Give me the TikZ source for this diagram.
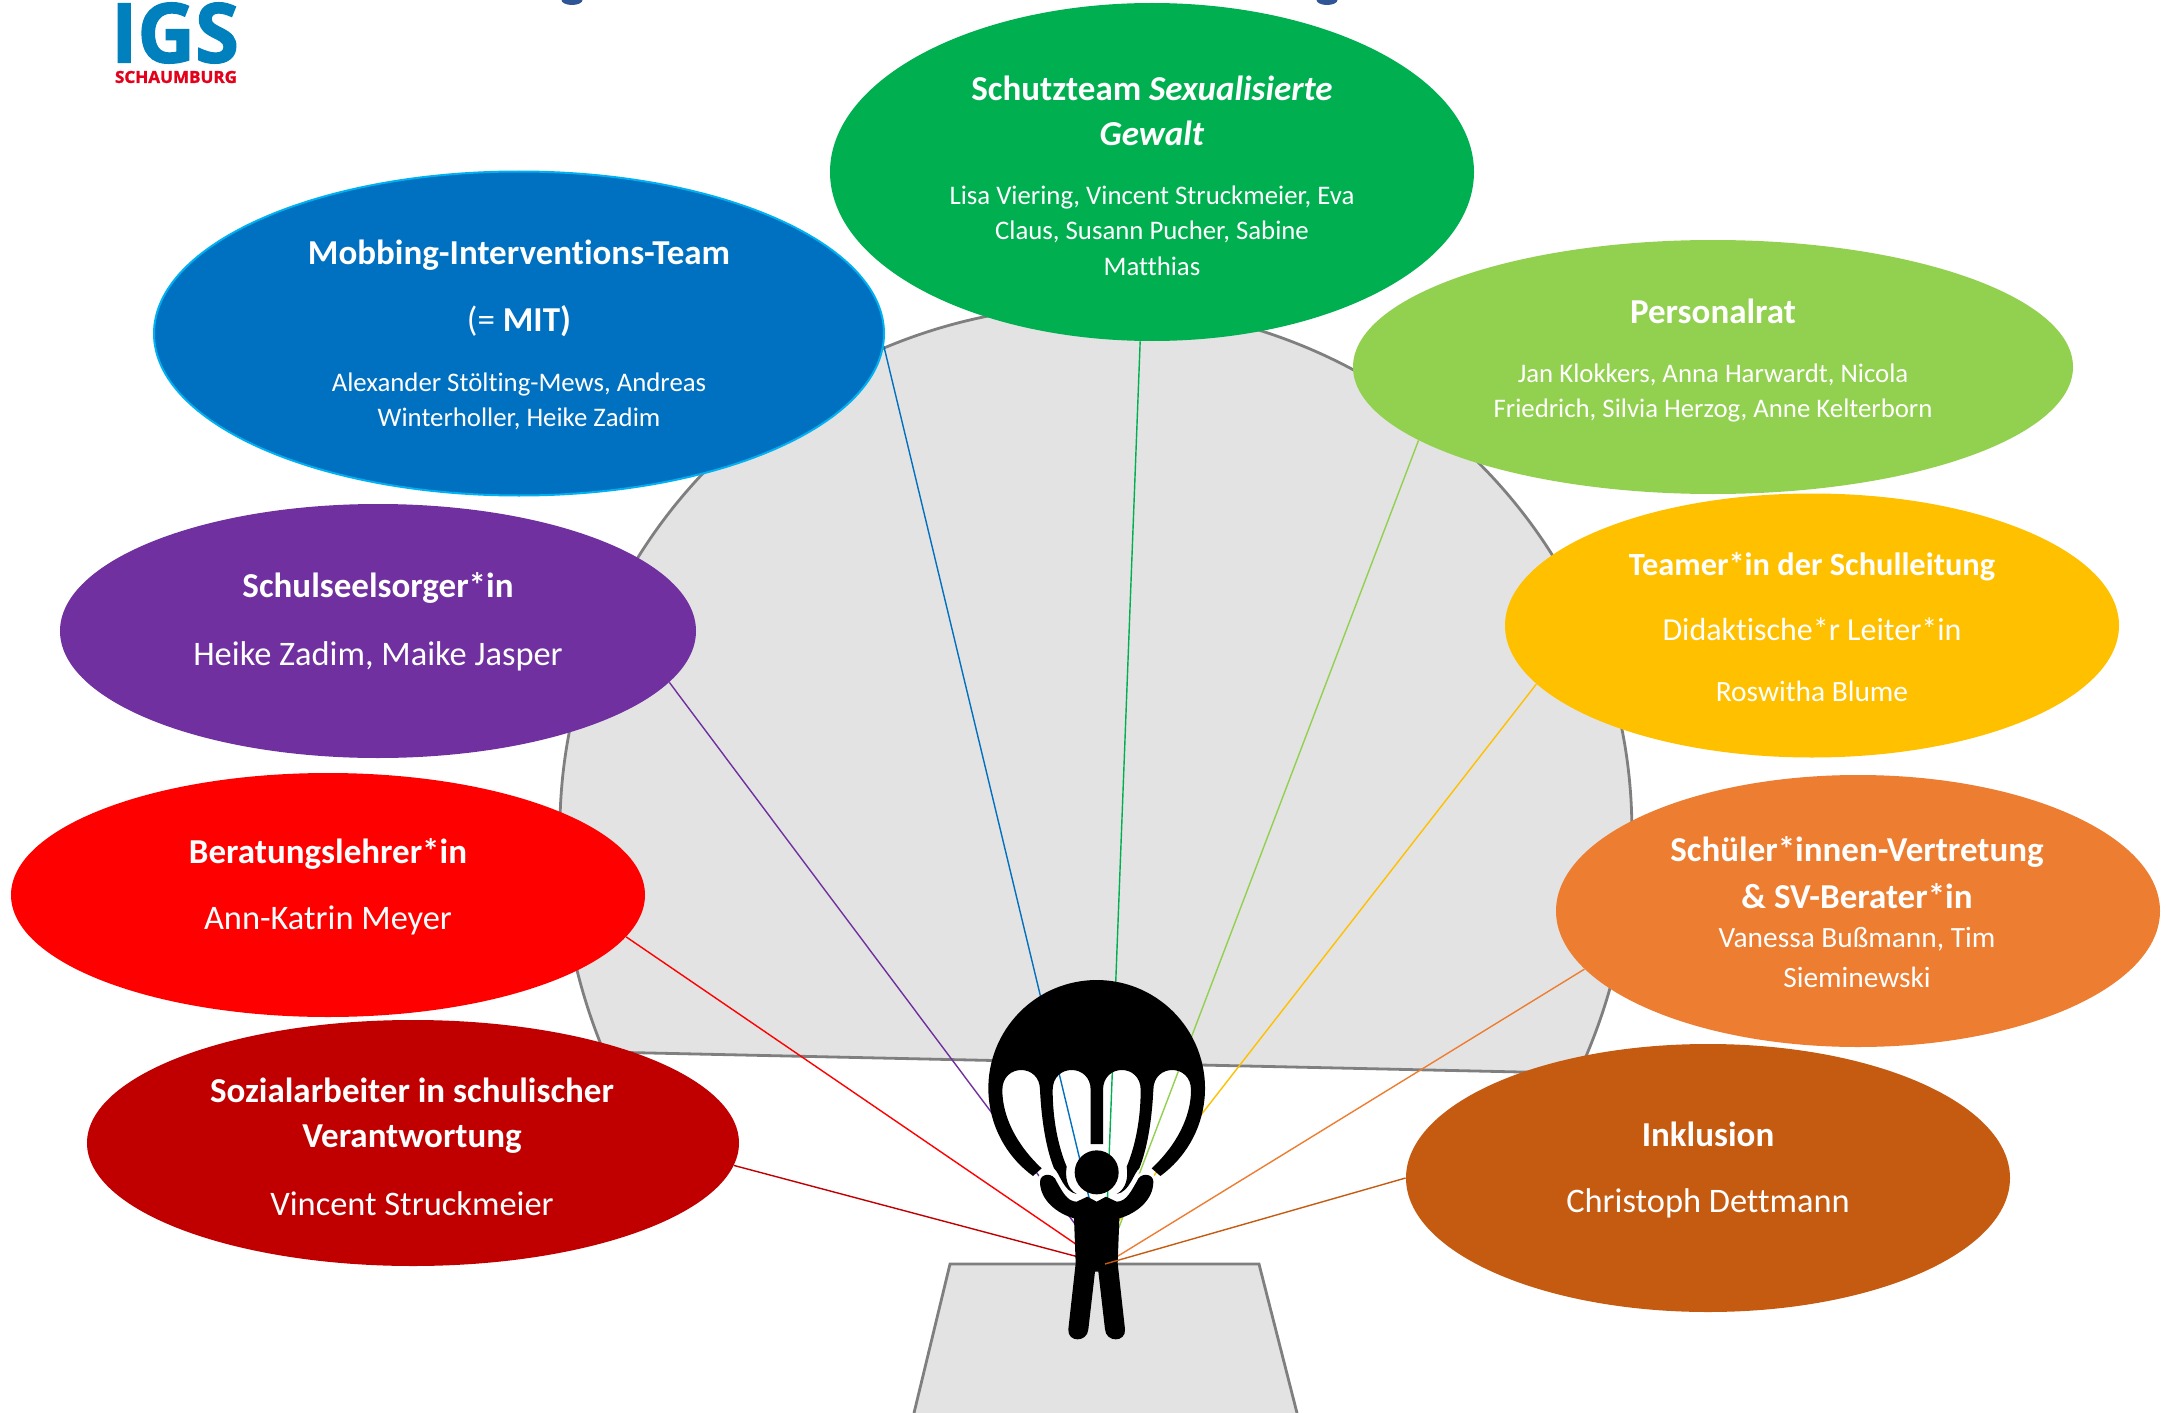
\documentclass[tikz,border=0pt]{standalone}
\usepackage{fontspec}
\usepackage{graphicx}
\setmainfont{Carlito}[Ligatures=CommonOff]
\newfontfamily\logofont{Open Sans}[BoldFeatures={FakeBold=1.5}]
\usetikzlibrary{shapes.geometric}

\definecolor{schutzgreen}{HTML}{00B050}
\definecolor{mitblue}{HTML}{0070C0}
\definecolor{mitborder}{HTML}{00B0F0}
\definecolor{ratgreen}{HTML}{92D050}
\definecolor{leityellow}{HTML}{FFC000}
\definecolor{seelpurple}{HTML}{7030A0}
\definecolor{beratred}{HTML}{FF0000}
\definecolor{sozdarkred}{HTML}{C00000}
\definecolor{svorange}{HTML}{ED7D31}
\definecolor{inkbrown}{HTML}{C55A11}
\definecolor{domefill}{HTML}{E3E3E3}
\definecolor{domeline}{HTML}{7F7F7F}
\definecolor{logoblue}{HTML}{0080BC}
\definecolor{logored}{HTML}{E2001A}
\definecolor{headblue}{HTML}{2F5597}

\pgfdeclarelayer{dome}
\pgfdeclarelayer{lines}
\pgfdeclarelayer{front}
\pgfsetlayers{dome,lines,main,front}

\tikzset{
  oval/.style={ellipse, inner sep=0pt},
  head/.style={white, font=\fontsize{17.5}{20}\selectfont\bfseries, inner sep=0pt},
  leithead/.style={white, font=\fontsize{16.2}{19}\selectfont\bfseries, inner sep=0pt},
  names/.style={white, font=\fontsize{13.4}{16}\selectfont, inner sep=0pt},
  midnames/.style={white, font=\fontsize{14.7}{17}\selectfont, inner sep=0pt},
  leitnames/.style={white, font=\fontsize{16}{19}\selectfont, inner sep=0pt},
  bignames/.style={white, font=\fontsize{17.2}{20}\selectfont, inner sep=0pt},
  link/.style={line width=0.7pt},
  greyshape/.style={fill=domefill, draw=domeline, line width=1.4pt},
  tailmark/.style={ellipse, fill=headblue, inner sep=0pt, minimum width=10.5pt, minimum height=5pt}
}

\begin{document}
\begin{tikzpicture}[x=0.5pt, y=-0.5pt]
\useasboundingbox (0, 0) rectangle (2170, 1413);

\coordinate (hub) at (1105, 1264);
\coordinate (hubL) at (1085, 1264);

\begin{pgfonlayer}{dome}
\coordinate (domeL) at (604, 1052);
\draw[greyshape] (domeL) arc[start angle=156.6, end angle=180, x radius=536, y radius=558]
  arc[start angle=180, end angle=360, x radius=536, y radius=525]
  arc[start angle=0, end angle=25.8, x radius=536, y radius=558] -- cycle;
\fill[domefill] (950, 1264) -- (1259, 1264) -- (1297, 1413) -- (914, 1413) -- cycle;
\draw[domeline, line width=1.4pt] (914, 1413) -- (950, 1264) -- (1259, 1264) -- (1297, 1413);
\end{pgfonlayer}

\node[oval, fill=schutzgreen, minimum width=322pt, minimum height=169pt] (schutz) at (1152, 172) {};
\node[oval, fill=mitblue, draw=mitborder, line width=1pt, minimum width=365pt, minimum height=162pt] (mit) at (519, 333.5) {};
\node[oval, fill=ratgreen, minimum width=360pt, minimum height=127pt] (rat) at (1713, 367) {};
\node[oval, fill=leityellow, minimum width=307pt, minimum height=132pt] (leit) at (1812, 625.5) {};
\node[oval, fill=seelpurple, minimum width=318pt, minimum height=127pt] (seel) at (378, 631) {};
\node[oval, fill=beratred, minimum width=317pt, minimum height=122pt] (berat) at (328, 895) {};
\node[oval, fill=sozdarkred, minimum width=326pt, minimum height=123pt] (soz) at (413, 1143) {};
\node[oval, fill=svorange, minimum width=302pt, minimum height=136pt] (sv) at (1858, 911) {};
\node[oval, fill=inkbrown, minimum width=302pt, minimum height=134pt] (ink) at (1708, 1178) {};

\begin{pgfonlayer}{lines}
\draw[link, schutzgreen] (hub) -- (schutz.266);
\draw[link, mitblue] (hub) -- (mit.-2);
\draw[link, ratgreen] (hub) -- (rat.194);
\draw[link, leityellow] (hubL) -- (leit.192);
\draw[link, seelpurple] (hub) -- (seel.-10.6);
\draw[link, beratred] (hub) -- (berat.-8);
\draw[link, sozdarkred] (hub) -- (soz.-4);
\draw[link, svorange] (hub) -- (sv.192);
\end{pgfonlayer}

\node[head] (schutz1) at (1152, 88) {Schutzteam \textit{Sexualisierte}};
\node[head] (schutz2) at (1152, 133) {\textit{Gewalt}};
\node[names] (schutz3) at (1152, 197) {Lisa Viering, Vincent Struckmeier, Eva};
\node[names] (schutz4) at (1152, 232) {Claus, Susann Pucher, Sabine};
\node[names] (schutz5) at (1152, 266) {Matthias};

\node[head] (mit1) at (519, 255) {Mobbing-Interventions-Team};
\node[head] (mit2) at (519, 321) {\textmd{(=} MIT)};
\node[names] (mit3) at (519, 384) {Alexander Stölting-Mews, Andreas};
\node[names] (mit4) at (519, 419) {Winterholler, Heike Zadim};

\node[head] (rat1) at (1713, 311) {Personalrat};
\node[names] (rat2) at (1713, 375) {Jan Klokkers, Anna Harwardt, Nicola};
\node[names] (rat3) at (1713, 410) {Friedrich, Silvia Herzog, Anne Kelterborn};

\node[leithead] (leit1) at (1812, 567) {Teamer*in der Schulleitung};
\node[leitnames] (leit2) at (1812, 629) {Didaktische*r Leiter*in};
\node[midnames] (leit3) at (1812, 691) {Roswitha Blume};

\node[head] (seel1) at (378, 588) {Schulseelsorger*in};
\node[bignames] (seel2) at (378, 656) {Heike Zadim, Maike Jasper};

\node[head] (berat1) at (328, 854) {Beratungslehrer*in};
\node[bignames] (berat2) at (328, 920) {Ann-Katrin Meyer};

\node[head] (soz1) at (412, 1090) {Sozialarbeiter in schulischer};
\node[head] (soz2) at (412, 1139) {Verantwortung};
\node[bignames] (soz3) at (412, 1204) {Vincent Struckmeier};

\node[head] (sv1) at (1857, 852) {Schüler*innen-Vertretung};
\node[head] (sv2) at (1857, 896) {\& SV-Berater*in};
\node[midnames] (sv3) at (1857, 939) {Vanessa Bußmann, Tim};
\node[midnames] (sv4) at (1857, 977) {Sieminewski};

\node[head] (ink1) at (1708, 1134) {Inklusion};
\node[bignames] (ink2) at (1708, 1203) {Christoph Dettmann};

\node[logoblue, inner sep=0pt] (igs) at (175, 33) {\resizebox{64pt}{30pt}{\logofont\bfseries IGS}};
\node[logored, inner sep=0pt] (schaumburg) at (176, 77) {\resizebox{61pt}{6pt}{\logofont\bfseries SCHAUMBURG}};
\node[tailmark] (tail1) at (572, 0) {};
\node[tailmark] (tail2) at (1327, 0) {};

\begin{pgfonlayer}{front}
\begin{scope}[shift={(930, 950)}, x=0.16667pt, y=-0.16667pt]
% canopy
\fill[black] (309, 678) arc[start angle=126, end angle=414, radius=325]
  -- (665, 655)
  .. controls (740, 585) and (783, 500) .. (783, 420)
  .. controls (783, 340) and (670, 340) .. (670, 420)
  .. controls (665, 520) and (650, 600) .. (628, 655)
  .. controls (610, 670) and (600, 725) .. (560, 732)
  .. controls (590, 715) and (595, 680) .. (590, 650)
  .. controls (615, 590) and (632, 510) .. (632, 420)
  .. controls (632, 340) and (519, 340) .. (519, 420)
  -- (519, 582) -- (482, 582) -- (482, 420)
  .. controls (482, 340) and (368, 340) .. (368, 420)
  .. controls (368, 510) and (385, 590) .. (410, 650)
  .. controls (405, 680) and (410, 715) .. (440, 732)
  .. controls (400, 725) and (390, 670) .. (372, 655)
  .. controls (350, 600) and (335, 520) .. (330, 420)
  .. controls (330, 340) and (217, 340) .. (217, 420)
  .. controls (217, 500) and (260, 585) .. (335, 655)
  -- cycle;
% figure
\draw[white, line width=3pt] (440, 755) .. controls (410, 755) and (395, 720) .. (380, 695) .. controls (370, 665) and (330, 670) .. (330, 695);
\draw[white, line width=3pt] (560, 755) .. controls (590, 755) and (605, 720) .. (620, 695) .. controls (630, 665) and (670, 670) .. (670, 695);
\fill[black] (500, 667) circle[radius=66];
\fill[black] (500, 755) -- (472, 740) -- (440, 755)
  .. controls (410, 755) and (395, 720) .. (380, 695)
  .. controls (370, 665) and (330, 670) .. (330, 695)
  .. controls (330, 750) and (380, 790) .. (432, 805)
  -- (437, 940) -- (415, 1138)
  .. controls (412, 1178) and (472, 1178) .. (475, 1138)
  -- (495, 965) -- (505, 965) -- (525, 1138)
  .. controls (528, 1178) and (588, 1178) .. (585, 1138)
  -- (563, 940) -- (568, 805)
  .. controls (620, 790) and (670, 750) .. (670, 695)
  .. controls (670, 670) and (630, 665) .. (620, 695)
  .. controls (605, 720) and (590, 755) .. (560, 755)
  -- (528, 740) -- cycle;
\end{scope}
\draw[link, inkbrown] (hub) -- (ink.180);
\end{pgfonlayer}
\end{tikzpicture}
\end{document}
